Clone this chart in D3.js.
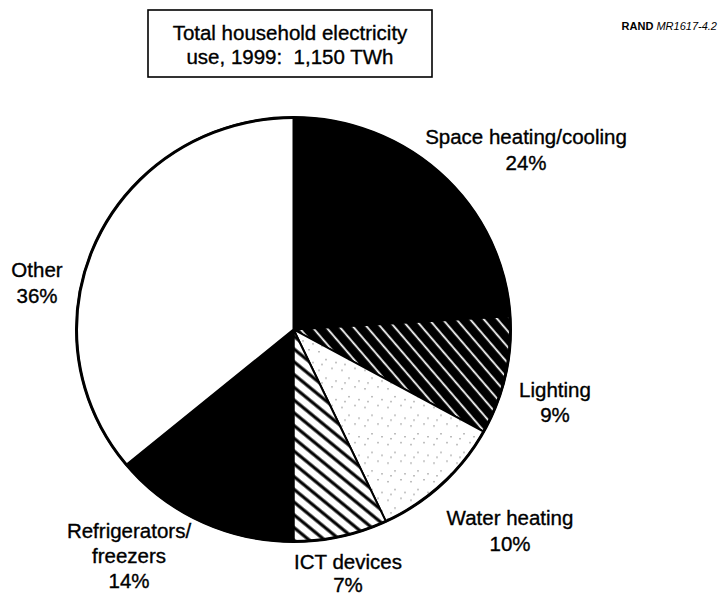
<!DOCTYPE html>
<html>
<head>
<meta charset="utf-8">
<script src="https://cdn.jsdelivr.net/npm/d3@7"></script>
<style>
  html, body { margin: 0; padding: 0; background: #fff; }
  svg { display: block; font-family: "Liberation Sans", Arial, Helvetica, sans-serif; }
</style>
</head>
<body>
<svg id="chart" width="722" height="596"></svg>
<script>
// Household electricity use by end use, 1999 (shares, %)
const categories = ["Space heating/cooling", "Lighting", "Water heating", "ICT devices", "Refrigerators/freezers", "Other"];
const shares = [24, 9, 10, 7, 14, 36];
const labelLines = [
  ["Space heating/cooling", "24%"],
  ["Lighting", "9%"],
  ["Water heating", "10%"],
  ["ICT devices", "7%"],
  ["Refrigerators/", "freezers", "14%"],
  ["Other", "36%"]
];
const fills = ["solid", "hatchWhite", "stipple", "hatchBlack", "solid", "white"];
const titleLines = ["Total household electricity", "use, 1999:  1,150 TWh"];

(function () {
  "use strict";
  const svg = d3.select("#chart");
  const cx = 293.5, cy = 329.5, rx = 217, ry = 212;

  // ---- patterns
  const defs = svg.append("defs");
  const pLight = defs.append("pattern").attr("id", "hatchWhite")
    .attr("patternUnits", "userSpaceOnUse").attr("width", 10.5).attr("height", 10.5)
    .attr("patternTransform", "rotate(50)");
  pLight.append("rect").attr("width", 10.5).attr("height", 10.5).attr("fill", "#000");
  pLight.append("line").attr("x1", 0).attr("x2", 10.5).attr("y1", 5).attr("y2", 5)
    .attr("stroke", "#fff").attr("stroke-width", 1.8);

  const pIct = defs.append("pattern").attr("id", "hatchBlack")
    .attr("patternUnits", "userSpaceOnUse").attr("width", 10).attr("height", 10)
    .attr("patternTransform", "rotate(40)");
  pIct.append("rect").attr("width", 10).attr("height", 10).attr("fill", "#fff");
  pIct.append("line").attr("x1", 0).attr("x2", 10).attr("y1", 5).attr("y2", 5)
    .attr("stroke", "#000").attr("stroke-width", 3.2);

  // sparse speckle texture for water heating
  const pDots = defs.append("pattern").attr("id", "stipple")
    .attr("patternUnits", "userSpaceOnUse").attr("width", 23).attr("height", 19);
  pDots.append("rect").attr("width", 23).attr("height", 19).attr("fill", "#fff");
  [[2, 3], [15, 1], [9, 11], [19, 14], [5, 16]].forEach(([x, y]) => {
    pDots.append("rect").attr("x", x).attr("y", y).attr("width", 1).attr("height", 1.5)
      .attr("fill", "#777");
  });

  const fillOf = f => f === "solid" ? "#000" : f === "white" ? "#fff" : `url(#${f})`;

  // ---- pie (slightly elliptical, as in the print)
  const pie = d3.pie().sort(null).value(d => d.v);
  const data = categories.map((c, i) => ({ c, v: shares[i], f: fills[i] }));
  const arc = d3.arc().innerRadius(0).outerRadius(rx);

  const g = svg.append("g")
    .attr("transform", `translate(${cx},${cy}) scale(1,${ry / rx})`);
  g.selectAll("path.slice").data(pie(data)).enter().append("path")
    .attr("class", "slice")
    .attr("d", arc)
    .attr("fill", d => fillOf(d.data.f))
    .attr("stroke", "#000").attr("stroke-width", 2).attr("stroke-linejoin", "round");
  g.append("ellipse").attr("rx", rx).attr("ry", rx)
    .attr("fill", "none").attr("stroke", "#000").attr("stroke-width", 3);

  // ---- slice labels (layout: first-line baseline of each text block)
  const labelXY = [[526, 144], [555, 397], [510, 525], [348, 569], [129, 538], [37, 277]];
  const lineH = [26, 25, 26, 23, 25, 26];
  labelLines.forEach((lines, i) => {
    const t = svg.append("text")
      .attr("x", labelXY[i][0]).attr("y", labelXY[i][1])
      .attr("text-anchor", "middle").attr("font-size", 20.5).attr("fill", "#000")
      .attr("stroke", "#000").attr("stroke-width", 0.35);
    lines.forEach((s, k) => {
      t.append("tspan").attr("x", labelXY[i][0]).attr("dy", k === 0 ? 0 : lineH[i]).text(s);
    });
  });

  // ---- title box
  svg.append("rect").attr("x", 148).attr("y", 10).attr("width", 284).attr("height", 67)
    .attr("fill", "#fff").attr("stroke", "#000").attr("stroke-width", 1.6);
  const tt = svg.append("text").attr("x", 290).attr("y", 40)
    .attr("text-anchor", "middle").attr("font-size", 20.5).attr("fill", "#000")
    .attr("stroke", "#000").attr("stroke-width", 0.35);
  titleLines.forEach((s, k) => {
    tt.append("tspan").attr("x", 290).attr("dy", k === 0 ? 0 : 23.5)
      .style("white-space", "pre").text(s);
  });

  // ---- figure id
  const id = svg.append("text").attr("x", 717).attr("y", 30)
    .attr("text-anchor", "end").attr("font-size", 11).attr("fill", "#000");
  id.append("tspan").attr("font-weight", 900).text("RAND ");
  id.append("tspan").attr("font-style", "italic").text("MR1617-4.2");
})();
</script>
</body>
</html>
